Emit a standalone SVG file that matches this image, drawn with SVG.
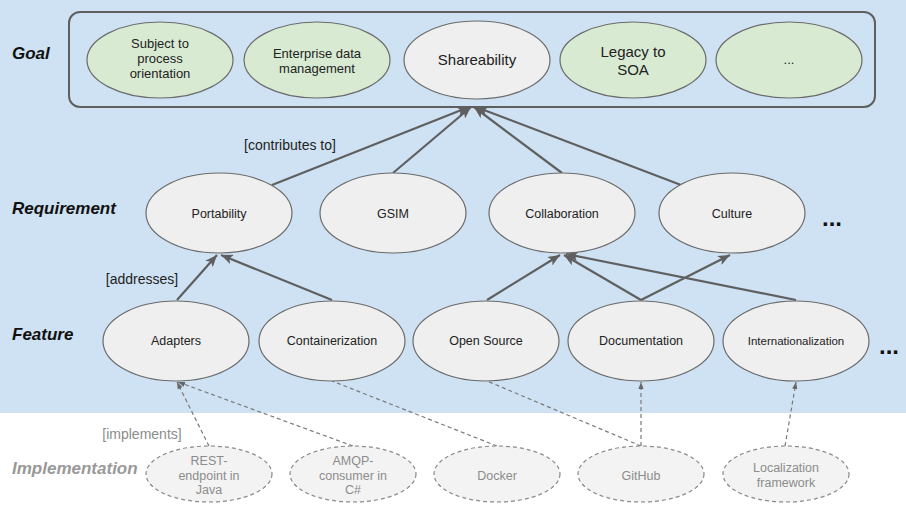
<svg xmlns="http://www.w3.org/2000/svg" width="906" height="517" viewBox="0 0 906 517">
<style>
text{font-family:"Liberation Sans",Arial,sans-serif;fill:#222;text-anchor:middle}
.lbl{font-weight:bold;font-style:italic;font-size:17px;text-anchor:start;fill:#111}
.goal{fill:#d9ead3;stroke:#6b6b6b;stroke-width:1.2}
.gray{fill:#efefef;stroke:#6b6b6b;stroke-width:1.2}
.impl{fill:#f3f3f3;stroke:#8a8a8a;stroke-width:1.2;stroke-dasharray:4 3}
.it{fill:#8c8c8c;font-size:12.5px}
.t13{font-size:13px}
.t12{font-size:12.5px}
.t15{font-size:15px}
.solid{stroke:#5f5f5f;stroke-width:2.2;fill:none}
.dash{stroke:#7a7a7a;stroke-width:1.2;fill:none;stroke-dasharray:4 3}
.dots{font-weight:bold;font-size:24px;text-anchor:start;fill:#111}
</style>
<defs>
<marker id="ah" viewBox="0 0 12 10" refX="12" refY="5" markerWidth="12" markerHeight="10" markerUnits="userSpaceOnUse" orient="auto">
<path d="M0,0 L12,5 L0,10 L3,5 z" fill="#5f5f5f"/>
</marker>
<marker id="ahs" viewBox="0 0 8 6" refX="8" refY="3" markerWidth="7" markerHeight="6" markerUnits="userSpaceOnUse" orient="auto">
<path d="M0,0 L8,3 L0,6 z" fill="#666"/>
</marker>
</defs>
<rect x="0" y="0" width="906" height="413" fill="#cfe2f3"/>
<rect x="0" y="413" width="906" height="104" fill="#ffffff"/>

<g id="labels">
<text class="lbl" x="12" y="59">Goal</text>
<text class="lbl" x="12" y="214">Requirement</text>
<text class="lbl" x="12" y="340">Feature</text>
<text class="lbl" x="12" y="474" style="fill:#999">Implementation</text>
<text x="290" y="150" style="font-size:14px">[contributes to]</text>
<text x="142" y="284" style="font-size:14px">[addresses]</text>
<text x="142" y="439" style="font-size:14px;fill:#8c8c8c">[implements]</text>
<text class="dots" x="822" y="226">...</text>
<text class="dots" x="879" y="354">...</text>
</g>

<g id="goal-box">
<rect x="69" y="12" width="806" height="95" rx="11" fill="none" stroke="#5f5f5f" stroke-width="2"/>
</g>

<g id="connectors">
<line class="solid" x1="272" y1="185" x2="469" y2="107" marker-end="url(#ah)"/>
<line class="solid" x1="393" y1="173" x2="471" y2="107" marker-end="url(#ah)"/>
<line class="solid" x1="562" y1="173" x2="474" y2="107" marker-end="url(#ah)"/>
<line class="solid" x1="681" y1="185" x2="476" y2="107" marker-end="url(#ah)"/>
<line class="solid" x1="177" y1="300" x2="217" y2="255" marker-end="url(#ah)"/>
<line class="solid" x1="332" y1="300" x2="221" y2="255" marker-end="url(#ah)"/>
<line class="solid" x1="487" y1="300" x2="560" y2="255" marker-end="url(#ah)"/>
<line class="solid" x1="641" y1="300" x2="564" y2="255" marker-end="url(#ah)"/>
<line class="solid" x1="641" y1="300" x2="730" y2="255" marker-end="url(#ah)"/>
<line class="solid" x1="796" y1="300" x2="566" y2="254" marker-end="url(#ah)"/>
<line class="dash" x1="209" y1="446" x2="177" y2="382" marker-end="url(#ahs)"/>
<line class="dash" x1="353" y1="446" x2="178" y2="382" marker-end="url(#ahs)"/>
<line class="dash" x1="497" y1="446" x2="332" y2="381"/>
<line class="dash" x1="641" y1="446" x2="487" y2="381"/>
<line class="dash" x1="641" y1="446" x2="641" y2="382" marker-end="url(#ahs)"/>
<line class="dash" x1="785" y1="446" x2="796" y2="382" marker-end="url(#ahs)"/>
</g>

<g id="goal-subject">
<ellipse class="goal" cx="160" cy="60" rx="73" ry="38"/>
<text class="t13" x="160" y="48">Subject to</text>
<text class="t13" x="160" y="63">process</text>
<text class="t13" x="160" y="78">orientation</text>
</g>
<g id="goal-enterprise">
<ellipse class="goal" cx="317" cy="60" rx="73" ry="38"/>
<text class="t13" x="317" y="58">Enterprise data</text>
<text class="t13" x="317" y="73">management</text>
</g>
<g id="goal-shareability">
<ellipse class="gray" cx="477" cy="60" rx="73" ry="39"/>
<text class="t15" x="477" y="65">Shareability</text>
</g>
<g id="goal-legacy">
<ellipse class="goal" cx="633" cy="60" rx="73" ry="38"/>
<text class="t15" x="633" y="57">Legacy to</text>
<text class="t15" x="633" y="75">SOA</text>
</g>
<g id="goal-more">
<ellipse class="goal" cx="789" cy="60" rx="73" ry="38"/>
<text class="t13" x="789" y="64">...</text>
</g>

<g id="req-portability">
<ellipse class="gray" cx="219" cy="213" rx="73" ry="40"/>
<text class="t12" x="219" y="218">Portability</text>
</g>
<g id="req-gsim">
<ellipse class="gray" cx="393" cy="213" rx="73" ry="40"/>
<text class="t12" x="393" y="218">GSIM</text>
</g>
<g id="req-collaboration">
<ellipse class="gray" cx="562" cy="213" rx="73" ry="40"/>
<text class="t12" x="562" y="218">Collaboration</text>
</g>
<g id="req-culture">
<ellipse class="gray" cx="732" cy="213" rx="73" ry="40"/>
<text class="t12" x="732" y="218">Culture</text>
</g>

<g id="feat-adapters">
<ellipse class="gray" cx="176" cy="341" rx="73" ry="40"/>
<text class="t12" x="176" y="345">Adapters</text>
</g>
<g id="feat-containerization">
<ellipse class="gray" cx="332" cy="341" rx="73" ry="40"/>
<text class="t12" x="332" y="345">Containerization</text>
</g>
<g id="feat-opensource">
<ellipse class="gray" cx="486" cy="341" rx="73" ry="40"/>
<text class="t12" x="486" y="345">Open Source</text>
</g>
<g id="feat-documentation">
<ellipse class="gray" cx="641" cy="341" rx="73" ry="40"/>
<text class="t12" x="641" y="345">Documentation</text>
</g>
<g id="feat-i18n">
<ellipse class="gray" cx="796" cy="341" rx="73" ry="40"/>
<text x="796" y="345" style="font-size:11.5px">Internationalization</text>
</g>

<g id="impl-rest">
<ellipse class="impl" cx="209" cy="474" rx="63" ry="28"/>
<text class="it" x="209" y="465">REST-</text>
<text class="it" x="209" y="480">endpoint in</text>
<text class="it" x="209" y="494">Java</text>
</g>
<g id="impl-amqp">
<ellipse class="impl" cx="353" cy="474" rx="63" ry="28"/>
<text class="it" x="353" y="465">AMQP-</text>
<text class="it" x="353" y="480">consumer in</text>
<text class="it" x="353" y="494">C#</text>
</g>
<g id="impl-docker">
<ellipse class="impl" cx="497" cy="474" rx="63" ry="28"/>
<text class="it" x="497" y="480">Docker</text>
</g>
<g id="impl-github">
<ellipse class="impl" cx="641" cy="474" rx="63" ry="28"/>
<text class="it" x="641" y="480">GitHub</text>
</g>
<g id="impl-localization">
<ellipse class="impl" cx="786" cy="474" rx="63" ry="28"/>
<text class="it" x="786" y="472">Localization</text>
<text class="it" x="786" y="487">framework</text>
</g>
</svg>
